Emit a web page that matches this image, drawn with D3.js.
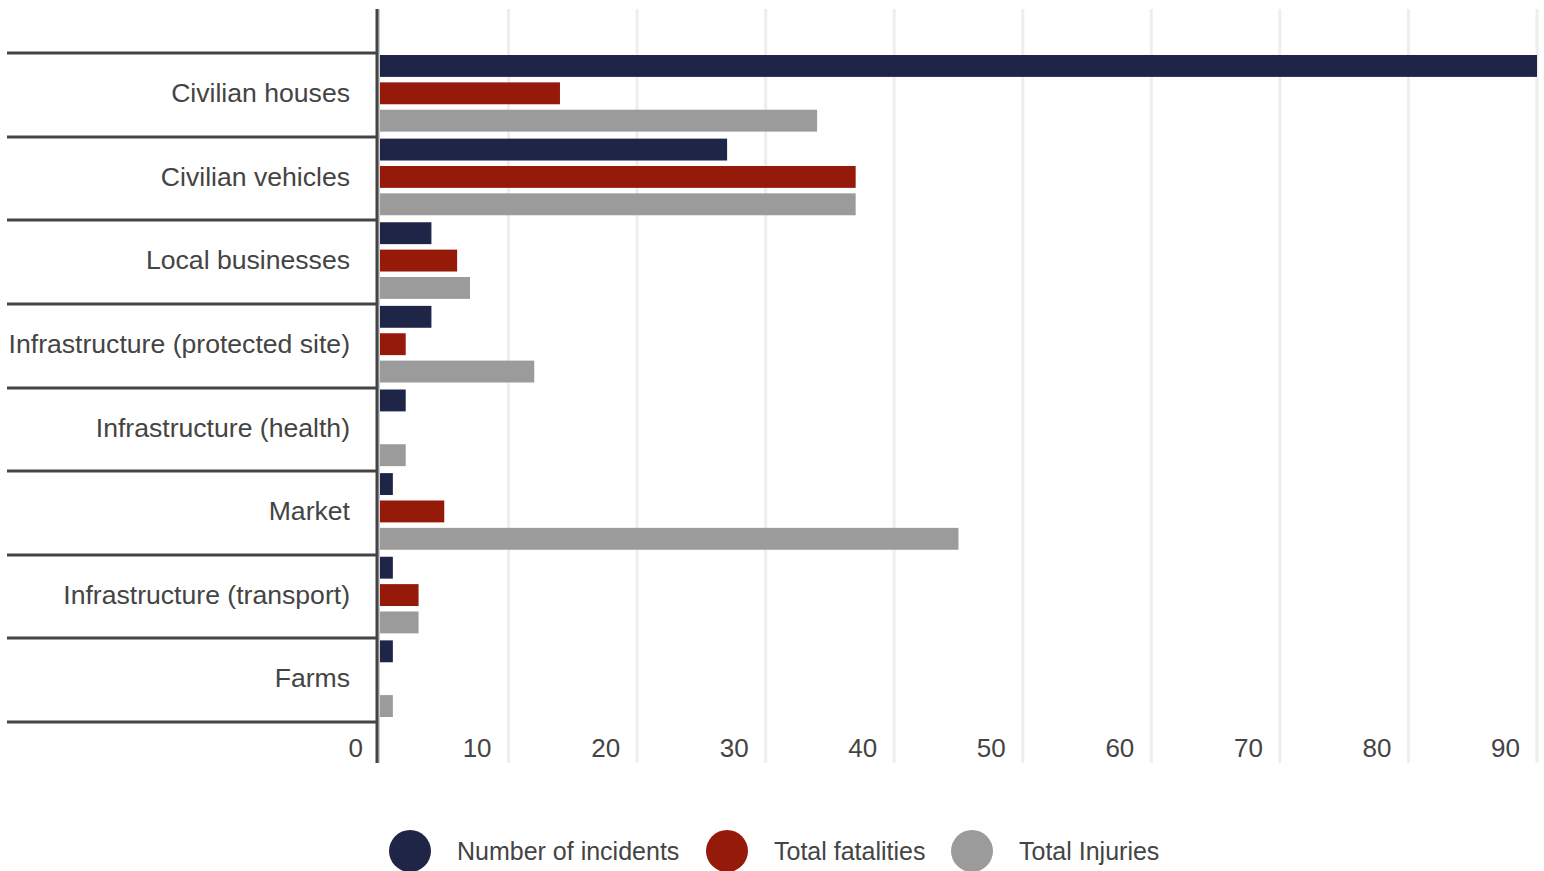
<!DOCTYPE html>
<head>
  <meta charset='utf-8'>
  <script src='https://d3js.org/d3.v7.min.js'></script>
  <style type='text/css'>
    body { margin: 0; background: #fff; }
    text { font-family: 'Liberation Sans', Arial, sans-serif; fill: #444; }
    .cat { font-size: 26.6px; }
    .tick { font-size: 26px; }
    .legend { font-size: 25px; }
  </style>
</head>
<body>
  <script type='text/javascript'>
    var categories = ['Civilian houses', 'Civilian vehicles', 'Local businesses',
      'Infrastructure (protected site)', 'Infrastructure (health)', 'Market',
      'Infrastructure (transport)', 'Farms'],
      seriesNames = ['Number of incidents', 'Total fatalities', 'Total Injuries'],
      incidents = [90, 27, 4, 4, 2, 1, 1, 1],
      fatalities = [14, 37, 6, 2, 0, 5, 3, 0],
      injuries = [34, 37, 7, 12, 2, 45, 3, 1],
      tickValues = [0, 10, 20, 30, 40, 50, 60, 70, 80, 90],
      colors = ['#1f2547', '#961a0a', '#9b9b9b'];
  </script>
  <script type='text/javascript'>
    var w = 1544,
      h = 871,
      plotTop = 9,
      plotBottom = 763,
      axisX = 377;

    var svg = d3.select('body').append('svg')
      .attr('width', w)
      .attr('height', h);

    var values = [incidents, fatalities, injuries];

    var x = d3.scaleLinear().domain([0, 90]).range([380, 1537]);
    var y = d3.scaleBand().domain(categories).range([53, 722]);
    var y1 = d3.scaleBand().domain(d3.range(seriesNames.length))
      .range([2, y.bandwidth() - 5]).paddingInner(0.2);

    //Vertical grid lines
    svg.selectAll('.grid').data(tickValues.slice(1)).enter().append('line')
      .attr('x1', function(d) { return x(d); })
      .attr('x2', function(d) { return x(d); })
      .attr('y1', plotTop)
      .attr('y2', plotBottom)
      .attr('stroke', '#eeeeee')
      .attr('stroke-width', 3);

    //Tick labels
    svg.selectAll('.tick').data(tickValues).enter().append('text')
      .attr('class', 'tick')
      .attr('x', function(d) { return x(d) - 17; })
      .attr('y', 757)
      .attr('text-anchor', 'end')
      .text(function(d) { return d; });

    //Horizontal separators on the left
    var bounds = categories.map(function(d) { return y(d); }).concat([y.range()[1]]);
    svg.selectAll('.sep').data(bounds).enter().append('line')
      .attr('x1', 7)
      .attr('x2', axisX)
      .attr('y1', function(d) { return Math.round(d); })
      .attr('y2', function(d) { return Math.round(d); })
      .attr('stroke', '#444')
      .attr('stroke-width', 3);

    //Bars
    var groups = svg.selectAll('.cat-group').data(categories).enter().append('g')
      .attr('transform', function(d) { return 'translate(0,' + y(d) + ')'; });

    groups.selectAll('rect').data(function(d, i) {
        return values.map(function(v, s) { return {s: s, v: v[i]}; });
      }).enter().append('rect')
      .attr('x', x(0))
      .attr('y', function(d) { return y1(d.s); })
      .attr('height', y1.bandwidth())
      .attr('width', function(d) { return x(d.v) - x(0); })
      .attr('fill', function(d) { return colors[d.s]; });

    //Category labels
    svg.selectAll('.cat').data(categories).enter().append('text')
      .attr('class', 'cat')
      .attr('x', 350)
      .attr('y', function(d) { return y(d) + y.bandwidth() / 2 - 2; })
      .attr('dy', '0.35em')
      .attr('text-anchor', 'end')
      .text(function(d) { return d; });

    //Axis line
    svg.append('line')
      .attr('x1', 379).attr('x2', 379)
      .attr('y1', plotTop).attr('y2', plotBottom)
      .attr('stroke', '#999').attr('stroke-width', 1);
    svg.append('line')
      .attr('x1', axisX).attr('x2', axisX)
      .attr('y1', plotTop).attr('y2', plotBottom)
      .attr('stroke', '#444').attr('stroke-width', 3);

    //Legend
    var legendX = [410, 727, 972];
    var legend = svg.selectAll('.legend-item').data(seriesNames).enter().append('g')
      .attr('transform', function(d, i) { return 'translate(' + legendX[i] + ',851)'; });
    legend.append('circle')
      .attr('r', 21)
      .attr('fill', function(d, i) { return colors[i]; });
    legend.append('text')
      .attr('class', 'legend')
      .attr('x', 47)
      .attr('y', 9)
      .text(function(d) { return d; });
  </script>
</body>
</html>
